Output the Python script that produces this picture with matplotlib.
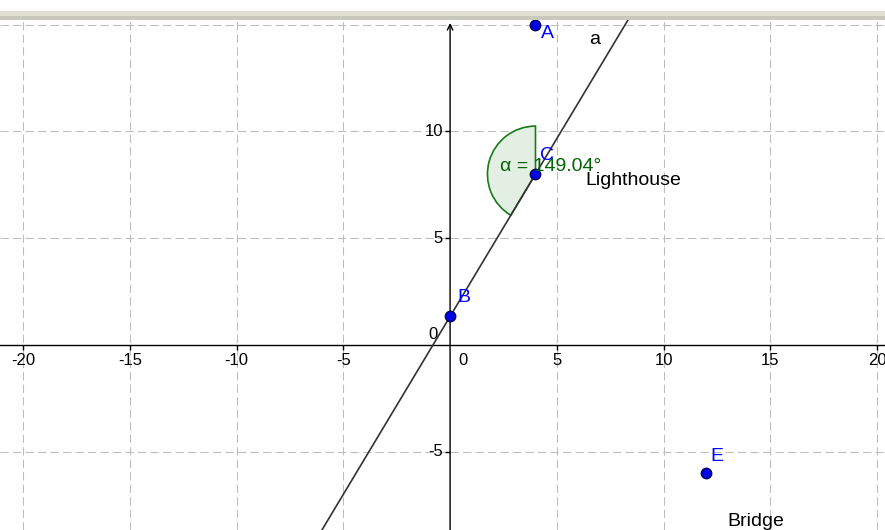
import numpy as np
import matplotlib
matplotlib.use('Agg')
import matplotlib.pyplot as plt
from matplotlib.patches import Wedge, Rectangle

plt.rcParams['font.family'] = ['Liberation Sans', 'DejaVu Sans']

# points of the construction
point_names = ['A', 'B', 'C', 'E']
point_x = [4, 0, 4, 12]
point_y = [15, 4 / 3, 8, -6]

# angle at C between CA and CB
alpha_deg = 149.04
angle_radius = 2.25

# axis ranges / ticks
x_ticks = [-20, -15, -10, -5, 0, 5, 10, 15, 20]
y_ticks = [-5, 0, 5, 10]
grid_x = [-20, -15, -10, -5, 5, 10, 15, 20]
grid_y = [-5, 5, 10, 15]
xlim = (-21.08, 20.37)
ylim = (-8.67, 15.22)

W, H = 885, 530
fig = plt.figure(figsize=(W / 100, H / 100), dpi=100)
ax = fig.add_axes([0, 0, 1, 510 / H])
ax.set_xlim(*xlim)
ax.set_ylim(*ylim)
ax.axis('off')

# toolbar band at the top
fig.patches.append(Rectangle((0, 510 / H), 1, 4 / H, transform=fig.transFigure,
                             facecolor='#c8c8bc', edgecolor='none'))
fig.patches.append(Rectangle((0, 514 / H), 1, 5 / H, transform=fig.transFigure,
                             facecolor='#e0e0d4', edgecolor='none'))

grid_kw = dict(color='#bdbdbd', lw=0.75, linestyle=(0, (8, 4)), zorder=1)
for gx in grid_x:
    ax.axvline(gx, **grid_kw)
for gy in grid_y:
    ax.axhline(gy, **grid_kw)

# axes
ax.axhline(0, color='black', lw=1, zorder=2)
ax.annotate('', xy=(0, 15.08), xytext=(0, ylim[0]),
            arrowprops=dict(arrowstyle='->', lw=1, color='black',
                            shrinkA=0, shrinkB=0, mutation_scale=10), zorder=2)

tick_fs = 12
for t in x_ticks:
    if t == 0:
        ax.annotate('0', xy=(0, 0), xytext=(8, -16), textcoords='offset pixels',
                    ha='left', va='center', fontsize=tick_fs)
        continue
    ax.plot([t], [0], marker=3, ms=3.5, color='black', zorder=2)
    ax.annotate(str(t), xy=(t, 0), xytext=(0, -16), textcoords='offset pixels',
                ha='center', va='center', fontsize=tick_fs)
for t in y_ticks:
    if t == 0:
        ax.annotate('0', xy=(0, 0), xytext=(-12, 10), textcoords='offset pixels',
                    ha='right', va='center', fontsize=tick_fs)
        continue
    ax.plot([0], [t], marker=0, ms=3.5, color='black', zorder=2)
    ax.annotate(str(t), xy=(0, t), xytext=(-7, 0), textcoords='offset pixels',
                ha='right', va='center', fontsize=tick_fs)

# line a through B and C
bx, by = point_x[1], point_y[1]
cx, cy = point_x[2], point_y[2]
slope = (cy - by) / (cx - bx)
xs = np.array(xlim)
ax.plot(xs, by + slope * (xs - bx), color='#333333', lw=1.2, zorder=3)
ax.text(6.5, 14.29, 'a', fontsize=14, ha='left', va='center', color='black')

# angle alpha at C
ax.add_patch(Wedge((cx, cy), angle_radius, 90, 90 + alpha_deg,
                   facecolor='#e4efe4', edgecolor='#1a7a1a', lw=1.2, zorder=2.5))
ax.annotate('α = %.2f°' % alpha_deg, xy=(cx, cy), xytext=(-35, 8),
            textcoords='offset pixels', ha='left', va='center',
            fontsize=14, color='#006400', zorder=5)

# points
ax.plot(point_x, point_y, 'o', ms=7.5, mfc='#0000e6', mec='#00005a',
        mew=1, zorder=4)
label_offsets = [(5, -9), (7, 19), (5, 19), (4, 17)]
for n, x, y, off in zip(point_names, point_x, point_y, label_offsets):
    ax.annotate(n, xy=(x, y), xytext=off, textcoords='offset pixels',
                ha='left', va='center', fontsize=14, color='#0000ff', zorder=5)

# captions
ax.annotate('Lighthouse', xy=(cx, cy), xytext=(50, -6), textcoords='offset pixels',
            ha='left', va='center', fontsize=14, color='black', zorder=5)
ax.annotate('Bridge', xy=(point_x[3], point_y[3]), xytext=(21, -48),
            textcoords='offset pixels', ha='left', va='center', fontsize=14,
            color='black', zorder=5)

fig.savefig('out.png', dpi=100)
